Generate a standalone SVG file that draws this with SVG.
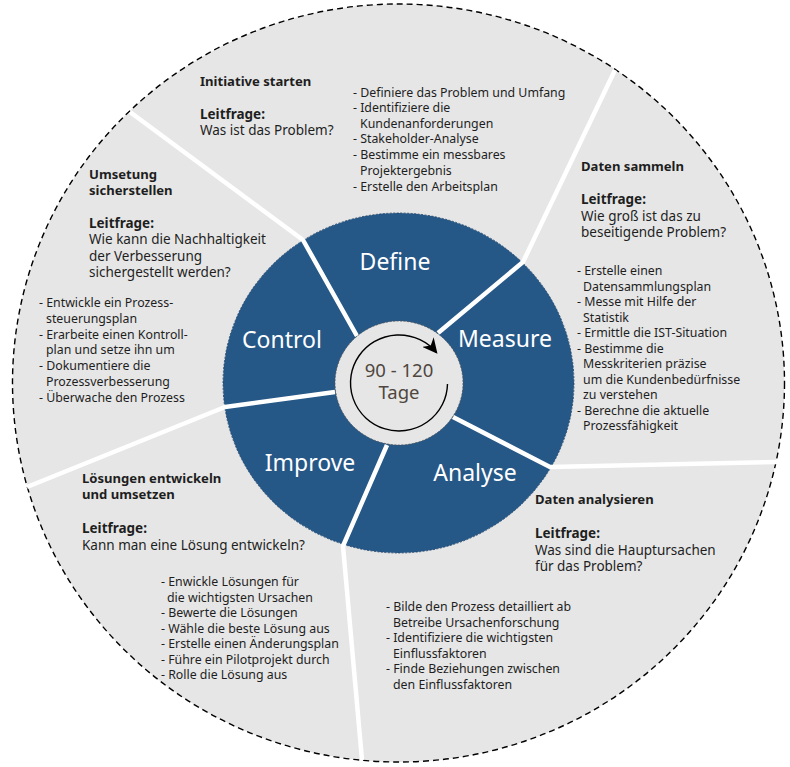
<svg xmlns="http://www.w3.org/2000/svg" width="790" height="767" viewBox="0 0 790 767">
<defs>
<style>
text{font-family:"Noto Sans","Open Sans","DejaVu Sans",sans-serif;fill:#1e1e1e}
.t{font-size:13.1px;font-weight:bold}
.q{font-size:13.5px}
.qb{font-size:13.5px;font-weight:bold}
.b{font-size:12.35px}
.ph{font-size:23px;fill:#ffffff;text-anchor:middle}
.div{fill:none;stroke:#ffffff;stroke-width:4.5;stroke-linejoin:round}
</style>
<marker id="ah" viewBox="0 0 10 10" refX="9" refY="5" markerWidth="15" markerHeight="15" markerUnits="userSpaceOnUse" orient="auto">
<path d="M0,0 L10,5 L0,10 L3,5 Z" fill="#000"/>
</marker>
</defs>
<rect width="790" height="767" fill="#ffffff"/>
<g id="background">
<ellipse cx="398.5" cy="383" rx="386" ry="379" fill="#e6e6e6" stroke="#000" stroke-width="1.4" stroke-dasharray="6,4"/>
<ellipse cx="398.5" cy="383" rx="175.5" ry="170" fill="#255787" stroke="#1c3f63" stroke-width="0.8" stroke-dasharray="2,1.5"/>
</g>
<g id="connectors">
<polyline class="div" points="357,336 303,240 130,112"/>
<polyline class="div" points="438,333 523,262 615,70"/>
<polyline class="div" points="453,417 550,467 778,462"/>
<polyline class="div" points="387,445 343,546 362,760"/>
<polyline class="div" points="335,392 225,407 27,487"/>
</g>
<g id="center">
<ellipse cx="399" cy="383" rx="64" ry="62" fill="#e6e6e6" stroke="#555" stroke-width="0.8" stroke-dasharray="2,1.5"/>
<path d="M447.5,384 A48.5,48 0 1 1 436.5,352.5" fill="none" stroke="#000" stroke-width="1.4" marker-end="url(#ah)"/>
<text x="399" y="377" style="font-size:18.5px;fill:#4f4640;text-anchor:middle">90 - 120</text>
<text x="399" y="399" style="font-size:18.5px;fill:#4f4640;text-anchor:middle">Tage</text>
</g>
<g id="define">
<text class="ph" x="395" y="270">Define</text>
<text class="t" x="200" y="86">Initiative starten</text>
<text class="qb" x="200" y="119">Leitfrage:</text>
<text class="q" x="200" y="135">Was ist das Problem?</text>
<text class="b"><tspan x="353" y="97">- Definiere das Problem und Umfang</tspan><tspan x="360" y="112" dx="-7">- Identifiziere die</tspan><tspan x="360" y="128">Kundenanforderungen</tspan><tspan x="353" y="143">- Stakeholder-Analyse</tspan><tspan x="353" y="159">- Bestimme ein messbares</tspan><tspan x="360" y="175">Projektergebnis</tspan><tspan x="353" y="191">- Erstelle den Arbeitsplan</tspan></text>
</g>
<g id="measure">
<text class="ph" x="505" y="347">Measure</text>
<text class="t" x="581" y="171">Daten sammeln</text>
<text class="qb" x="581" y="204">Leitfrage:</text>
<text class="q" x="581" y="221">Wie groß ist das zu</text>
<text class="q" x="581" y="237">beseitigende Problem?</text>
<text class="b"><tspan x="577" y="275">- Erstelle einen</tspan><tspan x="583" y="291">Datensammlungsplan</tspan><tspan x="577" y="306">- Messe mit Hilfe der</tspan><tspan x="583" y="322">Statistik</tspan><tspan x="577" y="337">- Ermittle die IST-Situation</tspan><tspan x="577" y="353">- Bestimme die</tspan><tspan x="583" y="368">Messkriterien präzise</tspan><tspan x="583" y="384">um die Kundenbedürfnisse</tspan><tspan x="583" y="399">zu verstehen</tspan><tspan x="577" y="415">- Berechne die aktuelle</tspan><tspan x="583" y="430">Prozessfähigkeit</tspan></text>
</g>
<g id="analyse">
<text class="ph" x="475" y="481">Analyse</text>
<text class="t" x="535" y="504">Daten analysieren</text>
<text class="qb" x="535" y="538">Leitfrage:</text>
<text class="q" x="535" y="555">Was sind die Hauptursachen</text>
<text class="q" x="535" y="571">für das Problem?</text>
<text class="b"><tspan x="386" y="611">- Bilde den Prozess detailliert ab</tspan><tspan x="393" y="627">Betreibe Ursachenforschung</tspan><tspan x="386" y="642">- Identifiziere die wichtigsten</tspan><tspan x="393" y="658">Einflussfaktoren</tspan><tspan x="386" y="673">- Finde Beziehungen zwischen</tspan><tspan x="393" y="689">den Einflussfaktoren</tspan></text>
</g>
<g id="improve">
<text class="ph" x="310" y="471">Improve</text>
<text class="t" x="82" y="483">Lösungen entwickeln</text>
<text class="t" x="82" y="499">und umsetzen</text>
<text class="qb" x="82" y="533">Leitfrage:</text>
<text class="q" x="82" y="550">Kann man eine Lösung entwickeln?</text>
<text class="b"><tspan x="161" y="586">- Enwickle Lösungen für</tspan><tspan x="167" y="602">die wichtigsten Ursachen</tspan><tspan x="161" y="617">- Bewerte die Lösungen</tspan><tspan x="161" y="633">- Wähle die beste Lösung aus</tspan><tspan x="161" y="648">- Erstelle einen Änderungsplan</tspan><tspan x="161" y="664">- Führe ein Pilotprojekt durch</tspan><tspan x="161" y="679">- Rolle die Lösung aus</tspan></text>
</g>
<g id="control">
<text class="ph" x="282" y="348">Control</text>
<text class="t" x="89" y="179">Umsetung</text>
<text class="t" x="89" y="195">sicherstellen</text>
<text class="qb" x="89" y="228">Leitfrage:</text>
<text class="q" x="89" y="244">Wie kann die Nachhaltigkeit</text>
<text class="q" x="89" y="261">der Verbesserung</text>
<text class="q" x="89" y="277">sichergestellt werden?</text>
<text class="b"><tspan x="39" y="307">- Entwickle ein Prozess-</tspan><tspan x="46" y="323">steuerungsplan</tspan><tspan x="39" y="339">- Erarbeite einen Kontroll-</tspan><tspan x="46" y="354">plan und setze ihn um</tspan><tspan x="39" y="370">- Dokumentiere die</tspan><tspan x="46" y="386">Prozessverbesserung</tspan><tspan x="39" y="402">- Überwache den Prozess</tspan></text>
</g>
</svg>
